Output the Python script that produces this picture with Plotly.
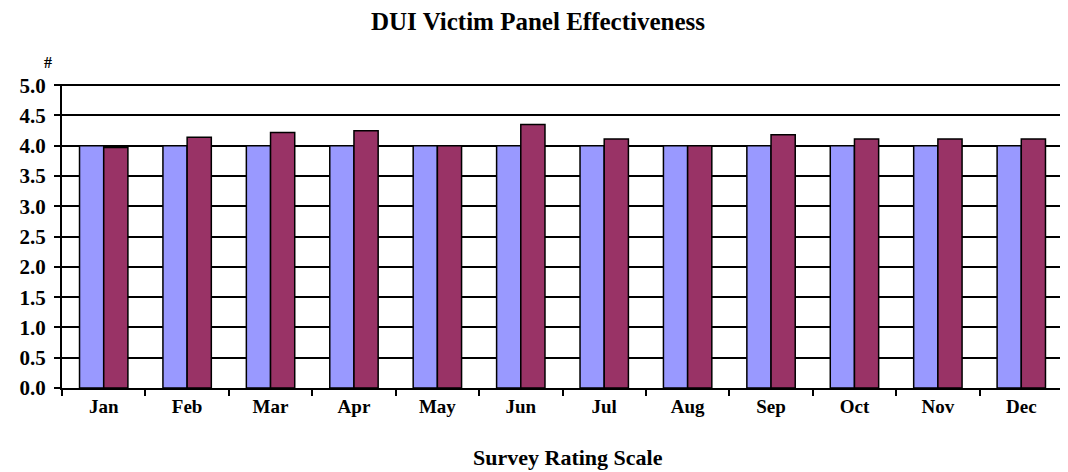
import plotly.graph_objects as go

months = ['Jan', 'Feb', 'Mar', 'Apr', 'May', 'Jun', 'Jul', 'Aug', 'Sep', 'Oct', 'Nov', 'Dec']
target = [4.0, 4.0, 4.0, 4.0, 4.0, 4.0, 4.0, 4.0, 4.0, 4.0, 4.0, 4.0]
actual = [3.97, 4.14, 4.22, 4.25, 4.0, 4.35, 4.11, 4.0, 4.18, 4.11, 4.11, 4.11]
y_ticks = [0.0, 0.5, 1.0, 1.5, 2.0, 2.5, 3.0, 3.5, 4.0, 4.5, 5.0]

serif = 'Liberation Serif'

fig = go.Figure()
fig.add_trace(go.Bar(x=months, y=target, marker=dict(color='#9999FF', line=dict(color='black', width=1.5)),
                     showlegend=False))
fig.add_trace(go.Bar(x=months, y=actual, marker=dict(color='#993366', line=dict(color='black', width=1.5)),
                     showlegend=False))

# page has an 8px body margin, so the figure is a bit smaller than the window
fig.update_layout(
    width=1060, height=464,
    margin=dict(l=54, r=5, t=76, b=84),
    plot_bgcolor='white', paper_bgcolor='white',
    barmode='group', bargap=0.42, bargroupgap=0,
    font=dict(family=serif, color='black'),
    title=dict(text='<b>DUI Victim Panel Effectiveness</b>', x=0.5, xanchor='center',
               y=0.972, yanchor='middle', font=dict(size=25, family=serif)),
)
fig.update_yaxes(range=[0, 5.02], tickvals=y_ticks, ticktext=['<b>%.1f</b>' % v for v in y_ticks],
                 showgrid=True, gridcolor='black', gridwidth=2, zeroline=False,
                 showline=True, linecolor='black', linewidth=2,
                 ticks='outside', ticklen=6, tickwidth=2, tickcolor='black',
                 tickfont=dict(size=21, family=serif), ticklabelstandoff=4, automargin=False)
fig.update_xaxes(tickvals=months, ticktext=['<b>%s</b>' % m for m in months],
                 showline=True, linecolor='black', linewidth=2,
                 ticks='outside', tickson='boundaries', ticklen=6, tickwidth=2, tickcolor='black',
                 tickfont=dict(size=19, family=serif))
fig.add_annotation(text='<b>#</b>', xref='paper', yref='paper', x=-0.02, y=1.105,
                   showarrow=False, font=dict(size=16, family=serif))
fig.add_annotation(text='<b>Survey Rating Scale</b>', xref='paper', yref='paper', x=0.505, y=-0.227,
                   showarrow=False, yanchor='middle', font=dict(size=22, family=serif))

fig.write_html("out.html")
